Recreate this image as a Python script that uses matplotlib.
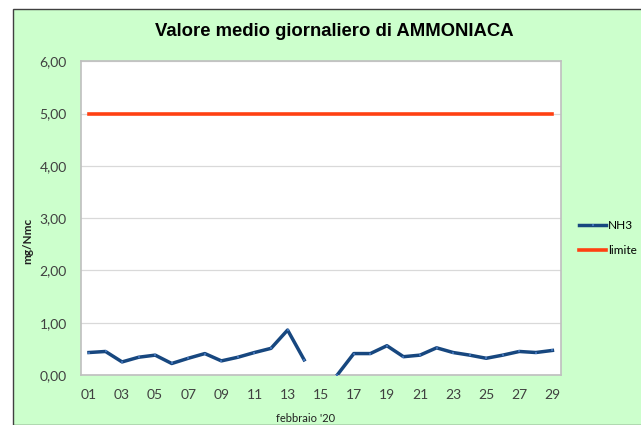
import matplotlib
matplotlib.use("Agg")
import matplotlib.pyplot as plt
import numpy as np
from matplotlib.patches import Rectangle

days = list(range(1, 30))
nh3 = [0.43, 0.45, 0.25, 0.34, 0.38, 0.22, 0.32, 0.41, 0.27, 0.34,
       0.43, 0.51, 0.86, 0.29, None, 0.00, 0.41, 0.41, 0.56, 0.35,
       0.38, 0.52, 0.43, 0.38, 0.32, 0.38, 0.45, 0.43, 0.47]
limite = [5.0] * 29
tick_days = list(range(1, 30, 2))
tick_labels = [f"{d:02d}" for d in tick_days]
y_ticks = [0, 1, 2, 3, 4, 5, 6]

BG = "#ccffcc"
LINE = "#17477f"
MARK = "#3f72b8"
LIM = "#ff4012"
GRID = "#d9d9d9"
INK = "#404040"

fig = plt.figure(figsize=(6.41, 4.25), dpi=100)
fig.patch.set_facecolor("white")
fig.patches.append(Rectangle((13 / 641, 0), 1, 1 - 9 / 425, transform=fig.transFigure,
                             facecolor=BG, edgecolor="#404040", lw=1.0, zorder=-5))

ax = fig.add_axes([80.7 / 641, 1 - 375 / 425, 480 / 641, 313.7 / 425])
ax.set_zorder(2)
ax.set_facecolor("white")

y = np.array([np.nan if v is None else v for v in nh3])
ax.plot(days, y, color=LINE, lw=2.5, marker="s", ms=2.0, mfc=MARK, mew=0,
        label="NH3", zorder=3)
ax.plot(days, limite, color=LIM, lw=2.6, label="limite", zorder=3)

ax.set_xlim(0.5, 29.5)
ax.set_ylim(0, 6)
ax.set_xticks(tick_days)
ax.set_xticklabels(tick_labels)
ax.set_yticks(y_ticks)
ax.set_yticklabels([f"{v:.2f}".replace(".", ",") for v in y_ticks])
ax.yaxis.grid(True, color=GRID, lw=0.9)
ax.set_axisbelow(True)
for sp in ax.spines.values():
    sp.set_color("#bfbfbf")
    sp.set_linewidth(1.2)
ax.tick_params(length=0, labelsize=10, colors=INK, pad=10)
for lab in ax.get_xticklabels() + ax.get_yticklabels():
    lab.set_family("Lato")

fig.text(334 / 641, 1 - 31 / 425, "Valore medio giornaliero di AMMONIACA",
         ha="center", va="center", fontsize=13.3, fontweight="bold",
         family="Liberation Sans", color="black")
fig.text(28 / 641, 1 - 241 / 425, "mg/Nmc", rotation=90, ha="center", va="center",
         fontsize=8.5, fontweight="bold", family="Lato", color="#202020")
fig.text(306 / 641, 1 - 419 / 425, "febbraio '20", ha="center", va="center",
         fontsize=8, family="Lato", color="#202020")

ax.legend(loc="center left", bbox_to_anchor=(571 / 641, 1 - 238 / 425),
          bbox_transform=fig.transFigure, frameon=False,
          handlelength=2.3, handletextpad=0.15, labelspacing=1.2,
          borderpad=0.2, prop={"family": "Lato", "size": 8.5})

fig.savefig("out.png", dpi=100, facecolor="white")
